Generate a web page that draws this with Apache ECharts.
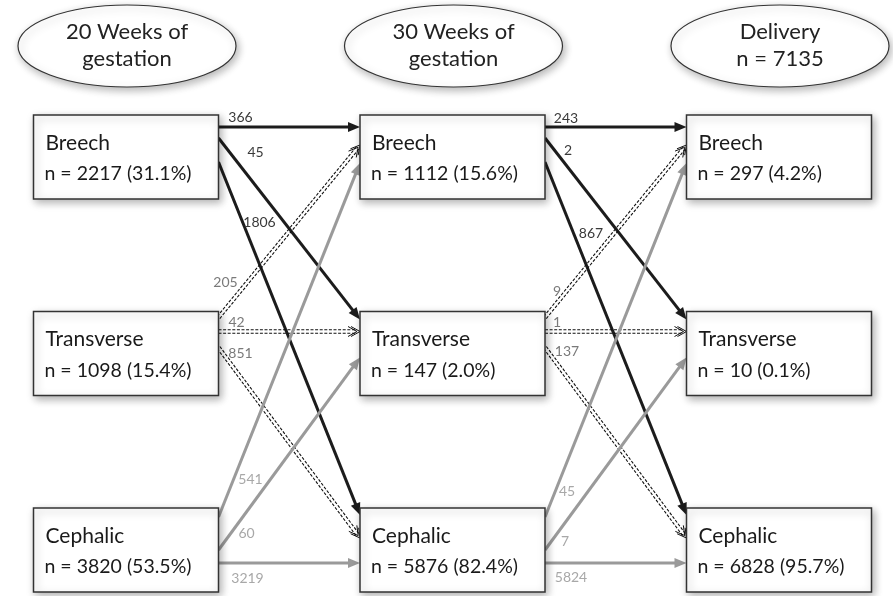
<!DOCTYPE html>
<html>
<head>
<meta charset="utf-8">
<script src="https://cdn.jsdelivr.net/npm/echarts@6/dist/echarts.min.js"></script>
<style>
  html, body { margin: 0; background: #fff; }
  #chart { width: 893px; height: 596px; }
</style>
</head>
<body>
<div id="chart"></div>
<script>
// stages (columns) and presentations (rows)
var stages = ['20 Weeks of\ngestation', '30 Weeks of\ngestation', 'Delivery\nn = 7135'];
var presentations = ['Breech', 'Transverse', 'Cephalic'];
// counts and percentages per stage, in presentation order
var counts = [[2217, 1098, 3820], [1112, 147, 5876], [297, 10, 6828]];
var percents = [['31.1', '15.4', '53.5'], ['15.6', '2.0', '82.4'], ['4.2', '0.1', '95.7']];
// transitions: row = from, col = to
var flow20to30 = [[366, 45, 1806], [205, 42, 851], [541, 60, 3219]];
var flow30toDel = [[243, 2, 867], [9, 1, 137], [45, 7, 5824]];

// layout only
var BOX_W = 185, BOX_H = 84;
var outOff = [[12, 23, 47], [6, 20, 36], [9, 42, 55]];   // [from][to]
var inOff = [[12, 30, 48], [8, 20, 46], [7, 30, 55]];    // [to][from]
var labelShift = [
  [[[22, -10], [37, 14], [41, 60]], [[7, -35], [18, -9], [22, 6]], [[32, -38], [28, -17], [29, 15]]],
  [[[21, -9], [23, 12], [46, 71]], [[12, -26], [12, -9], [22, 4]], [[22, -26], [20, -9], [26, 14]]]
];
var lineColor = ['#1c1c1c', '#1c1c1c', '#9a9a9a'];
var labelColor = ['#3a3a3a', '#7a7a7a', '#a8a8a8'];

var boxData = [];
stages.forEach(function (s, si) {
  presentations.forEach(function (p, ri) {
    boxData.push([si, ri, counts[si][ri], percents[si][ri]]);
  });
});
var edgeData = [];
[flow20to30, flow30toDel].forEach(function (m, si) {
  m.forEach(function (row, from) {
    row.forEach(function (v, to) { edgeData.push([si, from, to, v]); });
  });
});
var headData = stages.map(function (s, i) { return [i, 0]; });

function renderHead(params, api) {
  var i = api.value(0);
  var p = api.coord([i, 0]);
  var cx = p[0] + 1, cy = p[1] - 111;
  var lines = stages[i].split('\n');
  return {
    type: 'group',
    children: [
      { type: 'ellipse', shape: { cx: cx, cy: cy, rx: 109, ry: 41 },
        style: { fill: '#fff', stroke: '#333', lineWidth: 1.2,
                 shadowBlur: 8, shadowColor: 'rgba(0,0,0,0.3)', shadowOffsetX: 2, shadowOffsetY: 3 } },
      { type: 'text', style: { text: lines[0], x: cx, y: cy - 14, align: 'center', verticalAlign: 'middle',
        font: '22px Lato', fill: '#222' } },
      { type: 'text', style: { text: lines[1], x: cx, y: cy + 13, align: 'center', verticalAlign: 'middle',
        font: '22px Lato', fill: '#222' } }
    ]
  };
}

function renderBox(params, api) {
  var si = api.value(0), ri = api.value(1);
  var p = api.coord([si, ri]);
  var x = p[0] - BOX_W / 2, y = p[1] - BOX_H / 2;
  return {
    type: 'group',
    children: [
      { type: 'rect', shape: { x: x, y: y, width: BOX_W, height: BOX_H },
        style: { fill: '#fff', stroke: '#333', lineWidth: 1.5,
                 shadowBlur: 8, shadowColor: 'rgba(0,0,0,0.3)', shadowOffsetX: 2, shadowOffsetY: 3 } },
      { type: 'text', style: { text: presentations[ri], x: x + 12, y: y + 28, verticalAlign: 'middle',
        font: '21px Lato', fill: '#1a1a1a' } },
      { type: 'text', style: { text: 'n = ' + counts[si][ri] + ' (' + percents[si][ri] + '%)',
        x: x + 11, y: y + 59, verticalAlign: 'middle', font: '19.5px Lato', fill: '#1a1a1a' } }
    ]
  };
}

function renderEdge(params, api) {
  var si = api.value(0), from = api.value(1), to = api.value(2), v = api.value(3);
  var a = api.coord([si, from]), b = api.coord([si + 1, to]);
  var x1 = a[0] + BOX_W / 2, y1 = a[1] - BOX_H / 2 + outOff[from][to];
  var x2 = b[0] - BOX_W / 2, y2 = b[1] - BOX_H / 2 + inOff[to][from];
  var len = Math.hypot(x2 - x1, y2 - y1);
  var ux = (x2 - x1) / len, uy = (y2 - y1) / len;
  var nx = -uy, ny = ux;
  var kids = [];
  if (from === 1) {
    // double dashed line with hollow head
    [-1.7, 1.7].forEach(function (o) {
      kids.push({ type: 'line',
        shape: { x1: x1 + nx * o, y1: y1 + ny * o, x2: x2 - ux * 4 + nx * o, y2: y2 - uy * 4 + ny * o },
        style: { stroke: '#111', lineWidth: 1.1, lineDash: [3, 1.6] } });
    });
    [0, 3].forEach(function (back) {
      var tx = x2 - ux * back, ty = y2 - uy * back;
      kids.push({ type: 'polyline',
        shape: { points: [[tx - ux * 9 + nx * 5, ty - uy * 9 + ny * 5], [tx, ty], [tx - ux * 9 - nx * 5, ty - uy * 9 - ny * 5]] },
        style: { stroke: '#111', lineWidth: 1, fill: null } });
    });
  } else {
    kids.push({ type: 'line',
      shape: { x1: x1, y1: y1, x2: x2 - ux * 8, y2: y2 - uy * 8 },
      style: { stroke: lineColor[from], lineWidth: 3 } });
    kids.push({ type: 'polygon',
      shape: { points: [[x2, y2], [x2 - ux * 12 + nx * 5, y2 - uy * 12 + ny * 5], [x2 - ux * 12 - nx * 5, y2 - uy * 12 - ny * 5]] },
      style: { fill: lineColor[from] } });
  }
  var sh = labelShift[si][from][to];
  kids.push({ type: 'text', z2: 5,
    style: { text: String(v), x: x1 + sh[0], y: y1 + sh[1], align: 'center', verticalAlign: 'middle',
      font: '14px Lato', fill: labelColor[from] } });
  return { type: 'group', children: kids };
}

var chart = echarts.init(document.getElementById('chart'));
chart.setOption({
  animation: false,
  grid: { left: 126, right: 114, top: 157, bottom: 46 },
  xAxis: { type: 'value', min: 0, max: 2, show: false },
  yAxis: { type: 'value', min: 0, max: 2, inverse: true, show: false },
  series: [
    { type: 'custom', clip: false, data: edgeData, renderItem: renderEdge, z: 1 },
    { type: 'custom', clip: false, data: boxData, renderItem: renderBox, z: 2 },
    { type: 'custom', clip: false, data: headData, renderItem: renderHead, z: 2 }
  ]
});
</script>
</body>
</html>
